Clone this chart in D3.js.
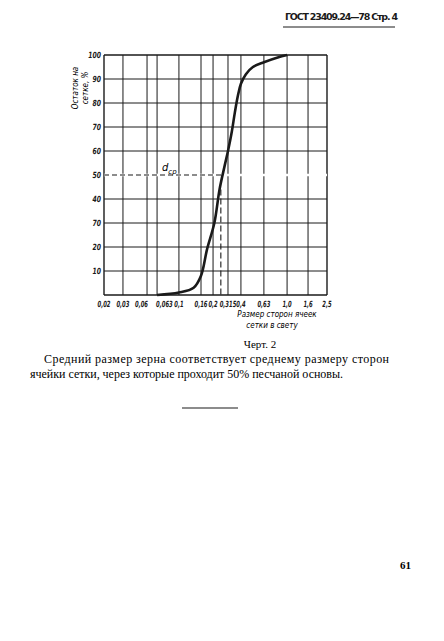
<!DOCTYPE html>
<html><head><meta charset="utf-8">
<script src="https://cdn.jsdelivr.net/npm/d3@7"></script>
<style>body{margin:0;background:#fff}</style></head>
<body><svg id="c" width="444" height="641"></svg>
<script>
const sizes = [0.02,0.03,0.06,0.063,0.1,0.16,0.2,0.315,0.4,0.63,1.0,1.6,2.5];
const sizeLabels = ["0,02","0,03","0,06","0,063","0,1","0,16","0,2","0,315","0,4","0,63","1,0","1,6","2,5"];
const yTicks = [10,20,30,40,50,60,70,80,90,100];
const yLabels = ["10","20","70","40","50","60","70","80","90","100"];
const curveX = [0.063,0.1,0.14,0.16,0.18,0.21,0.25,0.29,0.315,0.34,0.36,0.38,0.40,0.45,0.52,0.63,0.85,1.0];
const curveY = [0,1,3,8,19,30,44,54,60,68,76,83,88,92,95,97,99,100];
const dMean = 0.26;
// relative positions of the printed (non-uniform) scale divisions
const gridFrac = [0,0.085,0.193,0.238,0.336,0.435,0.489,0.556,0.614,0.717,0.821,0.915,1];

const svg = d3.select("#c");
const L=104,R=327,T=55,B=295;
const x = d3.scaleLinear().domain(sizes).range(gridFrac.map(f=>L+f*(R-L)));
const y = d3.scaleLinear().domain([0,100]).range([B,T]);
const ink="#1a1a1a";
const g = svg.append("g");
sizes.forEach(s=>g.append("line").attr("x1",x(s)).attr("x2",x(s)).attr("y1",T).attr("y2",B).attr("stroke",ink).attr("stroke-width",s===0.02||s===2.5?1.4:1));
[0].concat(yTicks).forEach(v=>g.append("line").attr("x1",L).attr("x2",R).attr("y1",y(v)).attr("y2",y(v)).attr("stroke",ink).attr("stroke-width",v===0||v===100?1.4:1));
g.append("line").attr("x1",L).attr("x2",R).attr("y1",y(50)).attr("y2",y(50)).attr("stroke","#fff").attr("stroke-width",2.5);
g.append("line").attr("x1",L).attr("x2",x(0.28)).attr("y1",y(50)).attr("y2",y(50)).attr("stroke",ink).attr("stroke-width",1.1).attr("stroke-dasharray","5,3");
g.append("line").attr("x1",x(dMean)).attr("x2",x(dMean)).attr("y1",y(44)).attr("y2",B).attr("stroke",ink).attr("stroke-width",1.1).attr("stroke-dasharray","6,3");
const pts = curveX.map((v,i)=>[x(v),y(curveY[i])]);
g.append("path").attr("d",d3.line().curve(d3.curveCatmullRom)(pts)).attr("fill","none").attr("stroke",ink).attr("stroke-width",2.6);
const f="font-family:'DejaVu Sans',sans-serif;font-style:italic;font-weight:bold;";
function lab(px,py,txt,anchor,size,sx){
  g.append("text").attr("transform",`translate(${px},${py}) scale(${sx},1)`).attr("text-anchor",anchor).attr("style",f+`font-size:${size}px`).attr("fill",ink).text(txt);
}
sizes.forEach((s,i)=>{
  const px=x(s);
  const nextClose = i<sizes.length-1 && x(sizes[i+1])-px<12;
  const prevClose = i>0 && px-x(sizes[i-1])<12;
  if(nextClose) lab(px+1,B+12,sizeLabels[i],"end",8.5,0.62);
  else if(prevClose) lab(px-1,B+12,sizeLabels[i],"start",8.5,0.62);
  else lab(px,B+12,sizeLabels[i],"middle",8.5,0.62);
});
yTicks.forEach((v,i)=>lab(L-3,y(v)+3,yLabels[i],"end",8.5,0.72));
const fn=f+"font-weight:normal;font-size:9px";
g.append("text").attr("transform","translate(78,88) rotate(-90) scale(0.8,1)").attr("text-anchor","middle").attr("style",fn).text("Остаток на");
g.append("text").attr("transform","translate(88,88) rotate(-90) scale(0.8,1)").attr("text-anchor","middle").attr("style",fn).text("сетке, %");
g.append("text").attr("transform","translate(277,317) scale(0.8,1)").attr("text-anchor","middle").attr("style",fn).text("Размер сторон ячеек");
g.append("text").attr("transform","translate(272,328) scale(0.8,1)").attr("text-anchor","middle").attr("style",fn).text("сетки в свету");
const dl=g.append("text").attr("x",162).attr("y",y(50)-4).attr("style",f+"font-weight:normal;font-size:10px");
dl.append("tspan").text("d");dl.append("tspan").attr("dy",3).attr("font-size",7).text("ср");
const serif="font-family:'Liberation Serif','DejaVu Serif',serif;";
svg.append("text").attr("x",285).attr("y",20).attr("style","font-family:'DejaVu Sans',sans-serif;font-weight:bold;font-size:9.5px").attr("textLength",113).attr("fill",ink).text("ГОСТ 23409.24—78 Стр. 4");
svg.append("line").attr("x1",283).attr("x2",395).attr("y1",27).attr("y2",27).attr("stroke",ink).attr("stroke-width",1);
svg.append("text").attr("x",260).attr("y",348).attr("text-anchor","middle").attr("style",serif+"font-size:11px").text("Черт. 2");
svg.append("text").attr("x",44).attr("y",363).attr("style",serif+"font-size:12px").attr("textLength",345).text("Средний размер зерна соответствует среднему размеру сторон");
svg.append("text").attr("x",30).attr("y",378).attr("style",serif+"font-size:12px").attr("textLength",313).text("ячейки сетки, через которые проходит 50% песчаной основы.");
svg.append("line").attr("x1",182).attr("x2",238).attr("y1",408).attr("y2",408).attr("stroke",ink).attr("stroke-width",1.2);
svg.append("text").attr("x",400).attr("y",569).attr("style",serif+"font-weight:bold;font-size:11px").text("61");
</script></body></html>
